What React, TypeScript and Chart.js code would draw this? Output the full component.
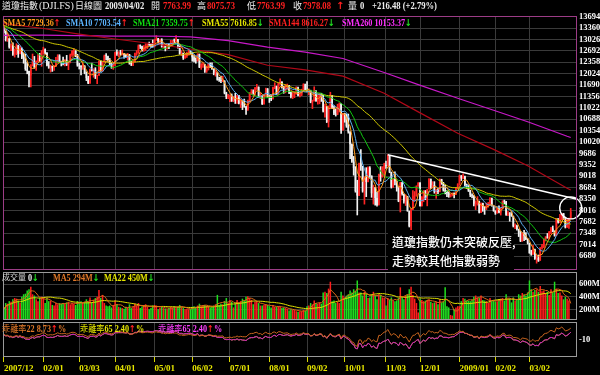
import React, { useEffect, useRef } from "react";
import { Chart, registerables } from "chart.js";

Chart.register(...registerables);

// ---------------- DATA ----------------
// closes before the first visible day (2007/09/28 .. 2007/12/28), used only for the moving averages
const PRIOR_CLOSE = [
  13896,
  14088,14047,13968,13974,14066,14044,14165,14079,14015,14093,13985,13913,13893,13889,13522,13567,13676,13675,13672,13807,13870,13792,13930,
  13568,13595,13543,13661,13300,13266,13043,12988,13307,13231,13110,13177,12958,13010,12799,12981,12743,12958,13289,13312,13372,
  13315,13249,13445,13620,13626,13727,13433,13474,13518,13340,13167,13232,13207,13246,13451,13549,13552,13360,13366,
];

// 2007/12/31 .. 2009/04/02 daily candles
const OPEN = [
  13366,13265,13044,13057,12800,12827,12589,12735,12853,12606,
  12778,12501,12466,12159,12099,11971,12270,12379,12207,12384,
  12480,12443,12650,12743,12635,12265,12200,12247,12182,12240,
  12373,12552,12377,12348,12337,12427,12284,12381,12570,12685,
  12694,12582,12266,12259,12214,12255,12040,11894,11740,12157,
  12110,12146,11951,11972,12393,12100,12361,12549,12533,12423,
  12302,12216,12263,12654,12609,12626,12609,12612,12576,12527,
  12582,12325,12302,12362,12619,12620,12849,12825,12720,12763,
  12849,12892,12872,12831,12820,13010,13058,12970,13021,12814,
  12867,12746,12876,12832,12898,12993,12987,13028,12829,12601,
  12626,12480,12548,12594,12646,12638,12504,12403,12390,12604,
  12210,12280,12290,12084,12142,12307,12269,12160,12029,12063,
  11843,11842,11807,11812,11453,11347,11350,11382,11216,11289,
  11232,11384,11147,11229,11101,11055,10963,11239,11447,11497,
  11467,11603,11632,11349,11371,11131,11398,11584,11378,11326,
  11284,11616,11656,11431,11734,11782,11642,11533,11616,11660,
  11479,11349,11417,11430,11628,11386,11413,11503,11715,11544,
  11517,11533,11188,11221,11511,11231,11269,11434,11422,10918,
  11059,10610,11020,11388,11016,10854,10825,11022,11143,10365,
  10851,10831,10483,10325,9956,9447,9258,8579,8451,9388,
  9311,8578,8979,8852,9265,9034,8519,8691,8379,8176,
  9065,8991,9181,9325,9320,9625,9139,8696,8944,8871,
  8694,8283,8835,8497,8274,8425,7997,7552,8046,8443,
  8479,8727,8829,8149,8419,8592,8376,8635,8934,8691,
  8761,8565,8630,8565,8924,8824,8605,8579,8520,8419,
  8468,8516,8484,8668,8776,9035,8953,9015,8770,8742,
  8599,8474,8449,8200,8212,8281,7949,8228,8123,8078,
  8116,8175,8375,8149,8001,7937,8078,7957,8063,8281,
  8271,7889,7940,7933,7850,7553,7556,7466,7366,7115,
  7351,7271,7182,7063,6763,6726,6876,6594,6627,6547,
  6926,6930,7170,7224,7217,7396,7487,7401,7278,7776,
  7660,7750,7925,7776,7522,7609,7764,
];
const HIGH = [
  13370,13280,13200,13060,12900,12930,12750,12900,12860,12830,
  12780,12620,12590,12350,12100,12290,12600,12530,12400,12580,
  12620,12700,12800,12750,12640,12380,12280,12250,12260,12500,
  12580,12580,12390,12510,12440,12560,12400,12600,12700,12760,
  12700,12590,12330,12260,12400,12260,12080,11950,12160,12330,
  12170,12200,11980,12400,12400,12380,12570,12610,12540,12470,
  12340,12320,12660,12720,12670,12710,12720,12620,12600,12620,
  12590,12390,12400,12630,12700,12870,12870,12830,12850,12900,
  12900,12950,12900,13010,13030,13140,13060,13040,13050,12900,
  12870,12900,12900,13000,13000,13040,13140,13030,12840,12700,
  12630,12590,12660,12720,12690,12650,12570,12490,12610,12600,
  12320,12350,12300,12250,12320,12340,12340,12170,12120,12070,
  11920,11950,11950,11820,11480,11420,11390,11430,11360,11450,
  11400,11390,11280,11230,11280,11070,11250,11470,11560,11550,
  11620,11710,11640,11450,11380,11410,11600,11590,11390,11380,
  11630,11760,11660,11750,11870,11790,11650,11710,11720,11680,
  11490,11480,11500,11640,11630,11470,11570,11730,11720,11790,
  11580,11540,11250,11640,11530,11390,11450,11440,11420,11130,
  11060,11080,11480,11390,11080,10990,11130,11170,11150,10860,
  10860,10840,10840,10330,9970,9600,9300,8900,9400,9800,
  9310,9000,9270,9290,9300,9030,8760,8690,8560,9080,
  9300,9300,9400,9460,9650,9630,9140,8960,9150,8880,
  8700,8840,8840,8500,8470,8430,8000,8050,8600,8570,
  8740,8830,8830,8420,8600,8600,8640,8950,8940,8860,
  8860,8640,8670,8940,8930,8840,8760,8600,8560,8490,
  8530,8530,8680,8800,9050,9040,9090,9020,8790,8760,
  8610,8500,8450,8300,8420,8290,8240,8230,8130,8230,
  8250,8390,8380,8160,8010,8090,8150,8090,8300,8320,
  8280,7990,7940,7980,7850,7620,7590,7470,7400,7360,
  7430,7370,7190,7060,6850,6990,6880,6700,6710,6930,
  7020,7180,7250,7340,7400,7520,7560,7420,7780,7780,
  7900,7930,7930,7780,7770,7790,8076,
];
const LOW = [
  13220,12980,12970,12770,12700,12560,12510,12580,12500,12600,
  12460,12330,12120,12020,11634,11635,12250,12180,12120,12370,
  12380,12240,12600,12600,12250,12180,12070,12090,12120,12230,
  12370,12350,12250,12280,12250,12260,12140,12340,12530,12560,
  12520,12240,12160,11990,12150,12020,11820,11730,11740,12100,
  11920,11880,11730,11970,12090,12090,12360,12430,12380,12280,
  12180,12150,12260,12560,12520,12560,12570,12480,12500,12420,
  12300,12260,12260,12360,12560,12620,12760,12680,12680,12700,
  12760,12850,12790,12800,12810,13000,12920,12880,12800,12780,
  12690,12740,12760,12820,12840,12930,12960,12770,12590,12550,
  12440,12470,12500,12570,12600,12390,12370,12330,12390,12200,
  12150,12210,12060,12060,12130,12200,12150,11990,11950,11830,
  11800,11760,11790,11430,11290,11290,11200,11210,11200,11150,
  11150,11140,11030,10970,11040,10830,10950,11210,11410,11420,
  11390,11560,11340,11290,11120,11130,11390,11330,11180,11230,
  11280,11580,11410,11410,11700,11600,11450,11460,11560,11440,
  11310,11290,11320,11420,11370,11340,11380,11500,11530,11490,
  11400,11170,11000,11220,11210,11130,11140,11210,10900,10750,
  10590,10460,11020,11000,10820,10780,10820,10900,10270,10370,
  10600,10450,10280,9530,9420,9050,8550,7882,8450,9190,
  8550,8200,8420,8850,8980,8400,8200,8170,8140,8170,
  8870,8990,9040,9250,9310,9120,8670,8690,8760,8580,
  8270,7970,8460,8230,8160,7990,7530,7450,8040,8300,
  8430,8720,8140,8140,8270,8330,8150,8640,8660,8680,
  8520,8370,8510,8560,8780,8580,8500,8420,8400,8410,
  8440,8380,8480,8660,8760,8890,8950,8740,8660,8570,
  8420,8380,8150,8040,8170,7940,7950,7990,7900,8040,
  8110,8170,8140,7990,7900,7930,7940,7880,8060,8210,
  7870,7860,7700,7840,7530,7480,7440,7250,7100,7110,
  7130,7160,7030,6760,6700,6730,6580,6470,6520,6550,
  6880,6930,7120,7200,7180,7330,7390,7260,7280,7640,
  7660,7740,7750,7500,7520,7490,7764,
];
const CLOSE = [
  13265,13044,13057,12800,12827,12589,12735,12853,12606,12778,
  12501,12466,12159,12099,11971,12270,12379,12207,12384,12480,
  12443,12650,12743,12635,12265,12200,12247,12182,12240,12373,
  12552,12377,12348,12337,12427,12284,12381,12570,12685,12694,
  12582,12266,12259,12214,12255,12040,11894,11740,12157,12110,
  12146,11951,11972,12393,12100,12361,12549,12533,12423,12302,
  12216,12263,12654,12609,12626,12609,12612,12576,12527,12582,
  12325,12302,12362,12619,12620,12849,12825,12720,12763,12849,
  12892,12872,12831,12820,13010,13058,12970,13021,12814,12867,
  12746,12876,12832,12898,12993,12987,13028,12829,12601,12626,
  12480,12548,12594,12646,12638,12504,12403,12390,12604,12210,
  12280,12290,12084,12142,12307,12269,12160,12029,12063,11843,
  11842,11807,11812,11453,11347,11350,11382,11216,11289,11232,
  11384,11147,11229,11101,11055,10963,11239,11447,11497,11467,
  11603,11632,11349,11371,11131,11398,11584,11378,11326,11284,
  11616,11656,11431,11734,11782,11642,11533,11616,11660,11479,
  11349,11417,11430,11628,11386,11413,11503,11715,11544,11517,
  11533,11188,11221,11511,11231,11269,11434,11422,10918,11059,
  10610,11020,11388,11016,10854,10825,11022,11143,10365,10851,
  10831,10483,10325,9956,9447,9258,8579,8451,9388,9311,
  8578,8979,8852,9265,9034,8519,8691,8379,8176,9065,
  8991,9181,9325,9320,9625,9139,8696,8944,8871,8694,
  8283,8835,8497,8274,8425,7997,7552,8046,8443,8479,
  8727,8829,8149,8419,8592,8376,8635,8934,8691,8761,
  8565,8630,8565,8924,8824,8605,8579,8520,8419,8468,
  8516,8484,8668,8776,9035,8953,9015,8770,8742,8599,
  8474,8449,8200,8212,8281,7949,8228,8123,8078,8116,
  8175,8375,8149,8001,7937,8078,7957,8063,8281,8271,
  7889,7940,7933,7850,7553,7556,7466,7366,7115,7351,
  7271,7182,7063,6763,6726,6876,6594,6627,6547,6926,
  6930,7170,7224,7217,7396,7487,7401,7278,7776,7660,
  7750,7925,7776,7522,7609,7762,7978,
];
// volume in millions
const VOLUME = [
  200,300,290,330,320,360,380,370,340,300,
  400,440,450,500,520,560,440,420,360,330,
  380,400,390,300,380,330,340,270,260,300,
  280,300,290,300,290,310,320,280,300,290,
  270,330,300,330,300,320,360,320,390,310,
  350,380,400,510,380,430,300,260,250,260,
  230,270,340,280,240,230,220,210,240,230,
  280,220,240,290,260,300,220,240,270,280,
  240,200,220,260,270,260,200,230,250,220,
  210,200,220,240,230,250,230,240,270,230,
  220,200,210,200,210,240,250,240,260,290,
  250,260,270,260,250,230,240,260,280,430,
  270,290,280,330,380,300,350,320,230,310,
  350,310,330,370,340,400,410,380,350,280,
  320,330,300,260,260,270,280,270,250,230,
  270,240,240,250,240,220,230,220,210,180,
  200,190,190,170,160,170,170,190,180,250,
  260,300,280,340,300,290,310,290,470,480,
  460,530,640,330,340,300,320,300,480,420,
  380,420,440,500,470,520,490,660,470,470,
  420,480,440,380,390,440,480,420,360,440,
  430,390,380,260,380,350,390,340,330,340,
  380,550,400,360,420,440,520,560,430,370,
  300,150,370,350,330,340,350,360,320,300,
  310,320,280,360,310,320,550,250,230,110,
  100,200,230,250,250,330,380,370,340,340,
  330,360,400,420,390,380,420,350,340,330,
  300,380,330,340,320,330,360,370,380,340,
  440,360,370,310,390,340,350,440,420,460,
  440,420,470,660,520,480,510,520,480,570,
  490,500,460,480,430,520,470,640,530,460,
  470,420,360,400,370,340,0,
];

// month ticks on the x axis (index of first trading day of the month)
const TICK_INDEX = [0, 22, 42, 62, 84, 105, 126, 148, 169, 190, 213, 232, 254, 274, 293];
const TICK_LABELS = ["2007/12", "02/01", "03/03", "04/01", "05/01", "06/02", "07/01", "08/01", "09/02", "10/01", "11/03", "12/01", "2009/01", "02/02", "03/02"];

const PRICE_TICKS = [13694, 13360, 13026, 12692, 12358, 12024, 11690, 11356, 11022, 10688, 10354, 10020, 9686, 9352, 9018, 8684, 8350, 8016, 7682, 7348, 7014, 6680];
const VOLUME_TICKS = [200, 400, 600];
const DEV_TICKS = [-10];

// long moving averages read at month ends
const LONG_MA_INDEX = [0, 21, 41, 61, 83, 104, 125, 147, 168, 189, 212, 231, 253, 273, 292, 314, 316];
const SMA144_VALUES = [13490, 13355, 13192, 13048, 12900, 12746, 12581, 12271, 12133, 11952, 11450, 10904, 10279, 9805, 9324, 8667, 8616];
const SMA260_VALUES = [13146, 13151, 13139, 13122, 13128, 13100, 12993, 12804, 12655, 12469, 12058, 11702, 11302, 10952, 10614, 10189, 10153];

// resistance line & highlight
const TREND_INDEX = [214, 319];
const TREND_VALUES = [9650, 8350];
const CIRCLE_INDEX = 316;
const CIRCLE_VALUE = 8090;

// ---------------- HELPERS ----------------
const SLOT_COUNT = CLOSE.length + 3;
const SLOTS = Array.from({ length: SLOT_COUNT }, (_, i) => String(i));
const ALL_CLOSE = [...PRIOR_CLOSE, ...CLOSE];

function movingAverage(n: number) {
  return CLOSE.map((_, i) => {
    const end = PRIOR_CLOSE.length + i;
    const start = end - n + 1;
    if (start < 0) return null;
    let s = 0;
    for (let k = start; k <= end; k++) s += ALL_CLOSE[k];
    return s / n;
  });
}
function volumeAverage(n: number) {
  return VOLUME.map((_, i) => {
    const start = Math.max(0, i - n + 1);
    let s = 0;
    for (let k = start; k <= i; k++) s += VOLUME[k];
    return s / (i - start + 1);
  });
}
function sparse(idx: number[], vals: number[]) {
  const a: (number | null)[] = new Array(SLOT_COUNT).fill(null);
  idx.forEach((k, j) => { a[k] = vals[j]; });
  return a;
}
function deviation(ma: (number | null)[]) {
  return CLOSE.map((c, i) => { const m = ma[i]; return m == null ? null : ((c - m) / m) * 100; });
}

const SERIF = '"Liberation Serif", "Times New Roman", serif';
const CJK = '"Noto Sans CJK TC", "Noto Sans CJK SC", sans-serif';
const ARROW = '"DejaVu Sans", sans-serif';
const GRID = "#3a3a3a";
const UP = "#ff2424";
const DOWN = "#f2f2f2";
const VOL_UP = "#ff1c1c";
const VOL_DOWN = "#20dc20";

const isUp = CLOSE.map((c, i) => c >= OPEN[i]);

const baseOptions: any = {
  responsive: false,
  animation: false,
  devicePixelRatio: 1,
  events: [],
  plugins: { legend: { display: false }, tooltip: { enabled: false } },
};

function xAxis(showLabels: boolean) {
  return {
    type: "category",
    offset: true,
    grid: { color: GRID, offset: false, drawTicks: showLabels, tickLength: 5, tickColor: "#d8d800", lineWidth: 1 },
    border: { display: false },
    afterBuildTicks: (s: any) => { s.ticks = TICK_INDEX.map((v) => ({ value: v })); },
    ticks: {
      display: showLabels,
      autoSkip: false,
      maxRotation: 0,
      minRotation: 0,
      align: "start",
      padding: 1,
      color: "#e6e600",
      font: { family: SERIF, size: 9, weight: "bold" },
      callback: (_v: any, i: number) => TICK_LABELS[i],
    },
    afterFit: (s: any) => {
      s.height = showLabels ? 18 : 0;
      s.paddingLeft = 0; s.paddingRight = 0; s.paddingTop = 0; s.paddingBottom = 0;
    },
  };
}

function yAxis(min: number, max: number, ticks: number[], fmt: (v: number) => string, grid: boolean) {
  return {
    type: "linear",
    position: "right",
    min,
    max,
    afterBuildTicks: (s: any) => { s.ticks = ticks.map((v) => ({ value: v })); },
    grid: { display: grid, color: GRID, drawTicks: false },
    border: { display: false },
    ticks: { autoSkip: false, color: "#ffffff", padding: 2, font: { family: SERIF, size: 8.5, weight: "bold" }, callback: (v: any) => fmt(v) },
    afterFit: (s: any) => {
      s.width = 23;
      s.paddingLeft = 0; s.paddingRight = 0; s.paddingTop = 0; s.paddingBottom = 0;
    },
  };
}

function borderPlugin(color: string) {
  return {
    id: "panelBorder",
    afterDraw(chart: any) {
      const { ctx, chartArea: a } = chart;
      ctx.save();
      ctx.strokeStyle = color;
      ctx.lineWidth = 1;
      ctx.strokeRect(Math.round(a.left) + 0.5, Math.round(a.top) + 0.5, Math.round(a.right - a.left) - 1, Math.round(a.bottom - a.top) - 1);
      ctx.restore();
    },
  };
}

const circlePlugin = {
  id: "circleMark",
  afterDatasetsDraw(chart: any) {
    const { ctx, scales } = chart;
    const px = scales.x.getPixelForValue(CIRCLE_INDEX);
    const py = scales.y.getPixelForValue(CIRCLE_VALUE);
    ctx.save();
    ctx.strokeStyle = "#ffffff";
    ctx.lineWidth = 1.4;
    ctx.beginPath();
    ctx.arc(px, py, 11, 0, Math.PI * 2);
    ctx.stroke();
    ctx.restore();
  },
};

function line(data: any[], color: string, width = 1, order = 1, spanGaps = false) {
  return { type: "line", data, borderColor: color, borderWidth: width, pointRadius: 0, tension: 0, spanGaps, order, fill: false };
}

function buildMain(canvas: HTMLCanvasElement) {
  const candleColors = isUp.map((u) => (u ? UP : DOWN));
  return new Chart(canvas, {
    type: "bar",
    data: {
      labels: SLOTS,
      datasets: [
        line(sparse(TREND_INDEX, TREND_VALUES), "#ffffff", 1.5, 0, true),
        line(movingAverage(5), "#ff9a1a", 1, 1),
        line(movingAverage(10), "#5cb0f0", 1, 1),
        line(movingAverage(21), "#10c810", 1, 1),
        line(movingAverage(55), "#cfc800", 1, 1),
        line(sparse(LONG_MA_INDEX, SMA144_VALUES), "#b00818", 1.2, 1, true),
        line(sparse(LONG_MA_INDEX, SMA260_VALUES), "#c818c8", 1.2, 1, true),
        {
          type: "bar",
          data: OPEN.map((o, i) => [o, CLOSE[i]]),
          backgroundColor: candleColors,
          borderWidth: 0,
          barPercentage: 0.9,
          categoryPercentage: 1,
          grouped: false,
          minBarLength: 1,
          order: 2,
        },
        {
          type: "bar",
          data: LOW.map((l, i) => [l, HIGH[i]]),
          backgroundColor: candleColors,
          borderWidth: 0,
          barThickness: 1,
          grouped: false,
          order: 3,
        },
      ] as any,
    },
    options: {
      ...baseOptions,
      layout: { padding: { left: 3, right: 0, top: 16, bottom: 2 } },
      scales: {
        x: xAxis(false),
        y: yAxis(6270, 13714, PRICE_TICKS, (v) => String(v), true),
      } as any,
    },
    plugins: [borderPlugin("#9c3c86"), circlePlugin],
  } as any);
}

function buildVolume(canvas: HTMLCanvasElement) {
  return new Chart(canvas, {
    type: "bar",
    data: {
      labels: SLOTS,
      datasets: [
        line(volumeAverage(5), "#d86818", 1, 0),
        line(volumeAverage(22), "#e0e000", 1, 0),
        {
          type: "bar",
          data: VOLUME,
          backgroundColor: isUp.map((u) => (u ? VOL_UP : VOL_DOWN)),
          borderWidth: 0,
          barPercentage: 0.85,
          categoryPercentage: 1,
          grouped: false,
          order: 2,
        },
      ] as any,
    },
    options: {
      ...baseOptions,
      layout: { padding: { left: 3, right: 0, top: 2, bottom: 2 } },
      scales: {
        x: xAxis(false),
        y: yAxis(30, 795, VOLUME_TICKS, (v) => `${v}M`, true),
      } as any,
    },
    plugins: [borderPlugin("#9a9a9a")],
  } as any);
}

function buildDeviation(canvas: HTMLCanvasElement) {
  const dev22 = deviation(movingAverage(22));
  const dev65 = deviation(movingAverage(65));
  return new Chart(canvas, {
    type: "line",
    data: {
      labels: SLOTS,
      datasets: [
        line(dev22, "#c8641e", 1, 0),
        line(dev65, "#c814c8", 1, 1),
        line(dev65, "#d0d000", 1, 2),
      ] as any,
    },
    options: {
      ...baseOptions,
      layout: { padding: { left: 3, right: 0, top: 2, bottom: 0 } },
      scales: {
        x: xAxis(true),
        y: yAxis(-37, 18.6, DEV_TICKS, (v) => String(v), false),
      } as any,
    },
    plugins: [borderPlugin("#9a9a9a")],
  } as any);
}

// ---------------- TEXT ----------------
function T(props: { x: number; y: number; c: string; s?: number; w?: string; f?: string; k?: number; children: any }) {
  const { x, y, c, s = 10, w = "bold", f = SERIF, k = 1, children } = props;
  return (
    <span
      style={{
        position: "absolute",
        left: x,
        top: y,
        color: c,
        fontSize: s,
        fontWeight: w as any,
        fontFamily: f,
        lineHeight: `${Math.round(s + 2)}px`,
        whiteSpace: "pre",
        transform: k === 1 ? undefined : `scaleX(${k})`,
        transformOrigin: "left center",
      }}
    >
      {children}
    </span>
  );
}

const RED = "#ff2020";
const GREEN = "#20e020";
const WHITE = "#eeeeee";
const CJK_SPAN = { fontFamily: CJK, fontWeight: "normal" as any };
const NK = 0.86; // narrow factor for numbers
const LK = 0.86; // narrow factor for legends

function Up() {
  return <span style={{ color: RED, fontFamily: ARROW, fontWeight: "bold" }}>↑</span>;
}
function Down() {
  return <span style={{ color: GREEN, fontFamily: ARROW, fontWeight: "bold" }}>↓</span>;
}

export default function App() {
  const mainRef = useRef<HTMLCanvasElement>(null);
  const volRef = useRef<HTMLCanvasElement>(null);
  const devRef = useRef<HTMLCanvasElement>(null);

  useEffect(() => {
    const charts = [buildMain(mainRef.current!), buildVolume(volRef.current!), buildDeviation(devRef.current!)];
    return () => charts.forEach((c) => c.destroy());
  }, []);

  return (
    <div style={{ position: "fixed", left: 0, top: 0, width: 600, height: 375, background: "#000", overflow: "hidden" }}>
      <canvas ref={mainRef} width={600} height={272} style={{ position: "absolute", left: 0, top: 0 }} />
      <canvas ref={volRef} width={600} height={52} style={{ position: "absolute", left: 0, top: 270 }} />
      <canvas ref={devRef} width={600} height={55} style={{ position: "absolute", left: 0, top: 320 }} />

      <T x={2} y={0} c={WHITE} s={9} w="normal" f={CJK}>道瓊指數</T>
      <T x={39} y={0} c={WHITE} s={10} w="normal">(DJI.FS)</T>
      <T x={75} y={0} c={WHITE} s={9} w="normal" f={CJK}>日線圖</T>
      <T x={105} y={0} c={WHITE} s={10} k={NK}>2009/04/02</T>
      <T x={151} y={0} c={WHITE} s={9} w="normal" f={CJK}>開</T>
      <T x={163} y={0} c={RED} s={10} k={NK}>7763.99</T>
      <T x={197} y={0} c={WHITE} s={9} w="normal" f={CJK}>高</T>
      <T x={207} y={0} c={RED} s={10} k={NK}>8075.73</T>
      <T x={247} y={0} c={WHITE} s={9} w="normal" f={CJK}>低</T>
      <T x={257} y={0} c={RED} s={10} k={NK}>7763.99</T>
      <T x={293} y={0} c={WHITE} s={9} w="normal" f={CJK}>收</T>
      <T x={303} y={0} c={RED} s={10} k={NK}>7978.08</T>
      <T x={336} y={0} c={RED} s={10}><Up /></T>
      <T x={348} y={0} c={WHITE} s={9} w="normal" f={CJK}>量</T>
      <T x={360} y={0} c={WHITE} s={10} k={NK}>0</T>
      <T x={372} y={0} c={WHITE} s={10} k={NK}>+216.48 (+2.79%)</T>

      <T x={3} y={17} c="#ff9a1a" s={9.5} k={LK}>SMA5 7729.36<Up /></T>
      <T x={66} y={17} c="#5cb4ff" s={9.5} k={LK}>SMA10 7703.54<Up /></T>
      <T x={133} y={17} c="#10e010" s={9.5} k={LK}>SMA21 7359.75<Up /></T>
      <T x={202} y={17} c="#e8e800" s={9.5} k={LK}>SMA55 7616.85<Down /></T>
      <T x={269} y={17} c={RED} s={9.5} k={LK}>SMA144 8616.27<Down /></T>
      <T x={342} y={17} c="#ff30ff" s={9.5} k={LK}>SMA260 10153.37<Down /></T>

      <T x={2} y={272} c="#d8d8d8" s={8} w="normal" f={CJK}>成交量</T>
      <T x={28} y={272} c={WHITE} s={9.5} k={LK}>0<Down /></T>
      <T x={53} y={272} c="#e07828" s={9.5} k={LK}>MA5 294M<Down /></T>
      <T x={104} y={272} c="#e8e800" s={9.5} k={LK}>MA22 450M<Down /></T>

      <T x={2} y={322} c="#e07828" s={9.5} k={LK}><span style={CJK_SPAN}>乖離率</span>22 8.73<Up />%</T>
      <T x={80} y={322} c="#e8e800" s={9.5} k={LK}><span style={CJK_SPAN}>乖離率</span>65 2.40<Up />%</T>
      <T x={158} y={322} c="#ff40ff" s={9.5} k={LK}><span style={CJK_SPAN}>乖離率</span>65 2.40<Up />%</T>

      <div
        style={{
          position: "absolute",
          left: 388,
          top: 232,
          width: 126,
          height: 40,
          background: "#000",
          color: "#ffffff",
          fontFamily: CJK,
          fontSize: 12,
          fontWeight: 500,
          lineHeight: "19px",
          paddingLeft: 4,
          boxSizing: "border-box",
          whiteSpace: "pre",
        }}
      >
        {"道瓊指數仍未突破反壓,\n走勢較其他指數弱勢"}
      </div>
    </div>
  );
}
